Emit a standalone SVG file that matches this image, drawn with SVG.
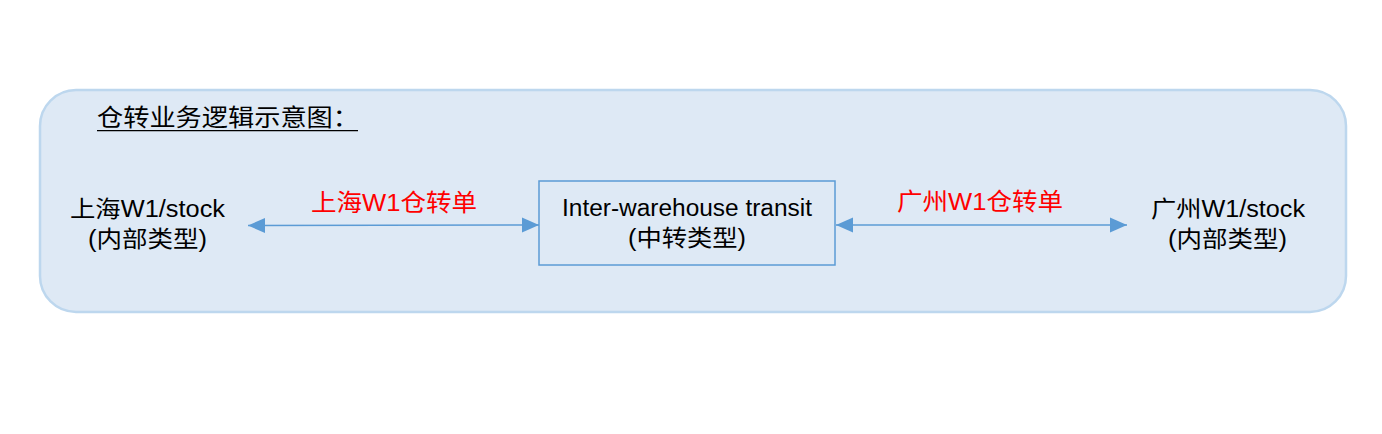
<svg xmlns="http://www.w3.org/2000/svg" width="1382" height="434" viewBox="0 0 1382 434">
<style>
text{font-family:"Liberation Sans","Noto Sans CJK SC",sans-serif;font-size:23px;fill:#000;text-anchor:middle}
.red{fill:#ff0000;font-size:24px}
.conn{stroke:#5b9bd5;stroke-width:1.5;fill:none}
</style>
<defs>
<marker id="ah" markerWidth="17" markerHeight="16" viewBox="0 0 17 16" refX="17" refY="8" orient="auto-start-reverse" markerUnits="userSpaceOnUse">
<path d="M0,0.5 L17,8 L0,15.5 Z" fill="#5b9bd5"/>
</marker>
</defs>
<rect width="1382" height="434" fill="#fff"/>
<g id="container">
<rect x="40" y="90" width="1306" height="222" rx="36" ry="36" fill="#dee9f5" stroke="#bdd7ee" stroke-width="2.5"/>
<text x="97" y="126" style="text-anchor:start;font-size:24px" textLength="262" lengthAdjust="spacingAndGlyphs">仓转业务逻辑示意图：</text>
<line x1="97" y1="130.7" x2="358" y2="130.7" stroke="#000" stroke-width="1.2"/>
</g>
<g id="connectors">
<line class="conn" x1="248" y1="225.5" x2="539" y2="225" marker-start="url(#ah)" marker-end="url(#ah)"/>
<line class="conn" x1="836" y1="225" x2="1127" y2="225" marker-start="url(#ah)" marker-end="url(#ah)"/>
<text class="red" x="394" y="211" textLength="166" lengthAdjust="spacingAndGlyphs">上海W1仓转单</text>
<text class="red" x="980" y="210" textLength="166" lengthAdjust="spacingAndGlyphs">广州W1仓转单</text>
</g>
<g id="shanghai">
<text x="147.5" y="217" textLength="155" lengthAdjust="spacingAndGlyphs">上海W1/stock</text>
<text x="147.5" y="247" textLength="119" lengthAdjust="spacingAndGlyphs">(内部类型)</text>
</g>
<g id="transit">
<rect x="539" y="181" width="296" height="84" fill="#dee9f5" stroke="#5b9bd5" stroke-width="1.5"/>
<text x="687" y="216" textLength="250" lengthAdjust="spacingAndGlyphs">Inter-warehouse transit</text>
<text x="687" y="246" textLength="118" lengthAdjust="spacingAndGlyphs">(中转类型)</text>
</g>
<g id="guangzhou">
<text x="1228" y="217" textLength="154" lengthAdjust="spacingAndGlyphs">广州W1/stock</text>
<text x="1227.5" y="247" textLength="119" lengthAdjust="spacingAndGlyphs">(内部类型)</text>
</g>
</svg>
